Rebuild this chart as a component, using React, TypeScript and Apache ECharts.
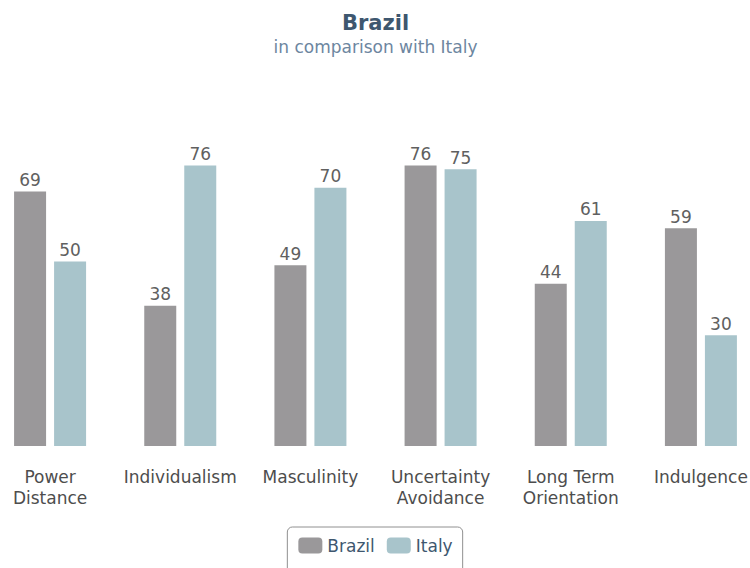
import React, { useEffect, useRef } from "react";
import * as echarts from "echarts";

const categories = ["Power\nDistance", "Individualism", "Masculinity", "Uncertainty\nAvoidance", "Long Term\nOrientation", "Indulgence"];
const brazil = [69, 38, 49, 76, 44, 59];
const italy = [50, 76, 70, 75, 61, 30];

const FONT = "DejaVu Sans";

export default function App() {
  const ref = useRef<HTMLDivElement>(null);
  useEffect(() => {
    const chart = echarts.init(ref.current!, null, { renderer: "svg" });
    const label = { show: true, position: "top", distance: 3, color: "#606060", fontSize: 17, fontFamily: FONT };
    chart.setOption({
      animation: false,
      title: {
        text: "Brazil",
        subtext: "in comparison with Italy",
        left: "center",
        top: 7,
        itemGap: 5,
        textStyle: { fontFamily: FONT, fontSize: 21, fontWeight: "bold", color: "#3E576F" },
        subtextStyle: { fontFamily: FONT, fontSize: 17, color: "#6D869F" },
      },
      legend: {
        top: 527,
        left: "center",
        itemWidth: 24,
        itemHeight: 16,
        itemGap: 12,
        icon: "roundRect",
        borderColor: "#909090",
        borderWidth: 1,
        borderRadius: 5,
        padding: [10, 10, 20, 11],
        textStyle: { fontFamily: FONT, fontSize: 17, color: "#3E576F" },
        data: ["Brazil", "Italy"],
      },
      grid: { left: 0, right: 0, top: 77, bottom: 122, containLabel: false },
      xAxis: {
        type: "category",
        data: categories,
        axisLine: { show: false },
        axisTick: { show: false },
        axisLabel: { fontFamily: FONT, fontSize: 17, color: "#4d4d4d", margin: 20, lineHeight: 21, interval: 0 },
      },
      yAxis: { type: "value", min: 0, max: 100, show: false, splitLine: { show: false } },
      series: [
        { name: "Brazil", type: "bar", data: brazil, barWidth: 32, barGap: "25%", itemStyle: { color: "#9a989a" }, label },
        { name: "Italy", type: "bar", data: italy, barWidth: 32, barGap: "25%", itemStyle: { color: "#a8c4cb" }, label },
      ],
    });
    return () => chart.dispose();
  }, []);
  return (
    <div style={{ width: 750, height: 568, position: "absolute", left: 0, top: 0, overflow: "hidden" }}>
      <div ref={ref} style={{ width: 781, height: 568, position: "absolute", left: -15, top: 0 }} />
    </div>
  );
}
